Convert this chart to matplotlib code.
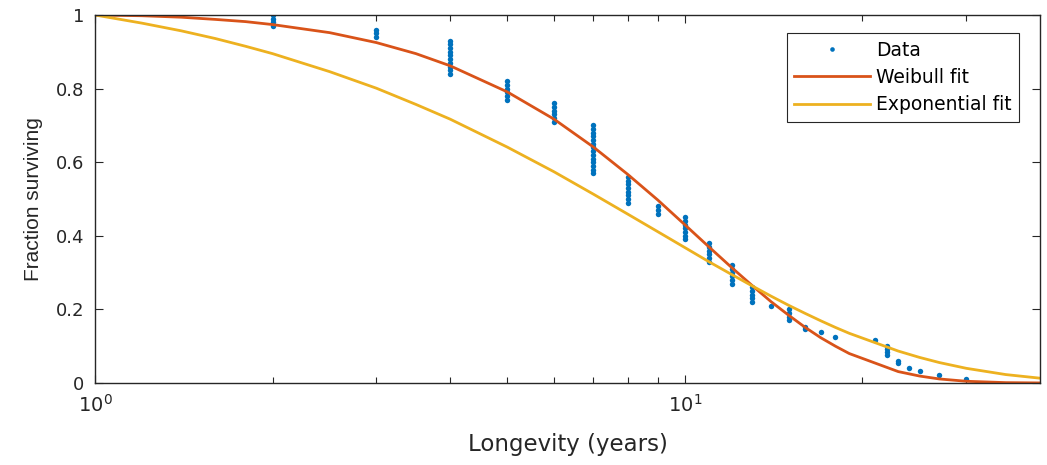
import matplotlib
matplotlib.use("Agg")
import matplotlib.pyplot as plt
from matplotlib.ticker import FixedLocator, NullFormatter

# observed longevities (years) and the fraction still surviving at each one
years = [2, 3, 4, 5, 6, 7, 8, 9, 10, 11, 12, 13, 14, 15, 16, 17, 18, 21, 22, 23, 24, 25, 27, 30]
fractions = [
    [1.00, 0.99, 0.98, 0.97],
    [0.96, 0.95, 0.94],
    [0.93, 0.92, 0.91, 0.90, 0.89, 0.88, 0.87, 0.86, 0.85, 0.84],
    [0.82, 0.81, 0.80, 0.79, 0.78, 0.77],
    [0.76, 0.75, 0.74, 0.73, 0.72, 0.71],
    [0.70, 0.69, 0.68, 0.67, 0.66, 0.65, 0.64, 0.63, 0.62, 0.61, 0.60, 0.59, 0.58, 0.57],
    [0.56, 0.55, 0.54, 0.53, 0.52, 0.51, 0.50, 0.49],
    [0.48, 0.47, 0.46],
    [0.45, 0.44, 0.43, 0.42, 0.41, 0.40, 0.39],
    [0.38, 0.37, 0.36, 0.35, 0.34, 0.33],
    [0.32, 0.31, 0.30, 0.29, 0.28, 0.27],
    [0.26, 0.25, 0.24, 0.23, 0.22],
    [0.21],
    [0.20, 0.19, 0.18, 0.17],
    [0.152, 0.147],
    [0.138],
    [0.126],
    [0.117],
    [0.101, 0.093, 0.085, 0.077],
    [0.061, 0.054],
    [0.042],
    [0.033],
    [0.022],
    [0.011],
]

# fitted curves, read at these years
fit_years = [1, 1.2, 1.4, 1.6, 1.8, 2, 2.5, 3, 3.5, 4, 5, 6, 7, 8, 9, 10, 11, 12,
             13, 14, 15, 16, 17, 18, 19, 23, 25, 27, 30, 35, 40]
weibull = [1.0, 0.998, 0.994, 0.988, 0.982, 0.974, 0.952, 0.925, 0.895, 0.862,
           0.791, 0.717, 0.641, 0.567, 0.497, 0.430, 0.369, 0.314, 0.265, 0.221,
           0.184, 0.151, 0.123, 0.100, 0.080, 0.031, 0.0189, 0.0110, 0.0047,
           0.0010, 0.0002]
exponential = [1.0, 0.978, 0.957, 0.936, 0.915, 0.895, 0.846, 0.801, 0.757, 0.717,
               0.641, 0.574, 0.513, 0.459, 0.411, 0.368, 0.329, 0.295, 0.264, 0.236,
               0.211, 0.189, 0.169, 0.151, 0.135, 0.0868, 0.0695, 0.0556, 0.0399,
               0.0229, 0.0131]

plt.rcParams['font.family'] = ['DejaVu Sans']
plt.rcParams['mathtext.default'] = 'regular'

dark = '#262626'
blue = '#0072BD'
red = '#D95319'
yellow = '#EDB120'

data_x, data_y = [], []
for yr, fr in zip(years, fractions):
    for f in fr:
        data_x.append(yr)
        data_y.append(f)

fig = plt.figure(figsize=(10.47, 4.65), dpi=100)
ax = fig.add_axes([95 / 1047, 1 - 383 / 465, 945 / 1047, 368 / 465])

ax.plot(data_x, data_y, 'o', color=blue, markersize=3.9, markeredgewidth=0, label='Data')
ax.plot(fit_years, weibull, '-', color=red, lw=2, label='Weibull fit')
ax.plot(fit_years, exponential, '-', color=yellow, lw=2, label='Exponential fit')

ax.set_xscale('log')
ax.set_xlim(1, 40)
ax.set_ylim(0, 1)

ax.xaxis.set_major_locator(FixedLocator([1, 10]))
ax.set_xticklabels(['$10^0$', '$10^1$'])
ax.xaxis.set_minor_locator(FixedLocator([2, 3, 4, 5, 6, 7, 8, 9, 20, 30]))
ax.xaxis.set_minor_formatter(NullFormatter())
ax.set_yticks([0, 0.2, 0.4, 0.6, 0.8, 1])
ax.set_yticklabels(['0', '0.2', '0.4', '0.6', '0.8', '1'])

ax.tick_params(which='both', direction='in', top=True, right=True,
               colors=dark, labelsize=13, width=0.8)
ax.tick_params(axis='y', which='major', length=6, pad=8)
ax.tick_params(axis='x', which='major', length=6, pad=8, labelsize=14)
ax.tick_params(which='minor', length=4)
for s in ax.spines.values():
    s.set_color(dark)
    s.set_linewidth(1)

ax.set_xlabel('Longevity (years)', fontsize=16.5, color=dark, labelpad=12)
ax.set_ylabel('Fraction surviving', fontsize=15, color=dark, labelpad=9,
              family=['Liberation Sans', 'DejaVu Sans'])

leg = ax.legend(loc='upper right', bbox_to_anchor=(0.978, 0.951), borderaxespad=0,
                fontsize=13.5, handlelength=4.05, handletextpad=0.32, labelspacing=0.45,
                fancybox=False, framealpha=1, borderpad=0.4, markerscale=0.85)
leg.get_frame().set_edgecolor(dark)
leg.get_frame().set_linewidth(0.8)
for t in leg.get_texts():
    t.set_color('black')

fig.savefig('out.png', dpi=100)
